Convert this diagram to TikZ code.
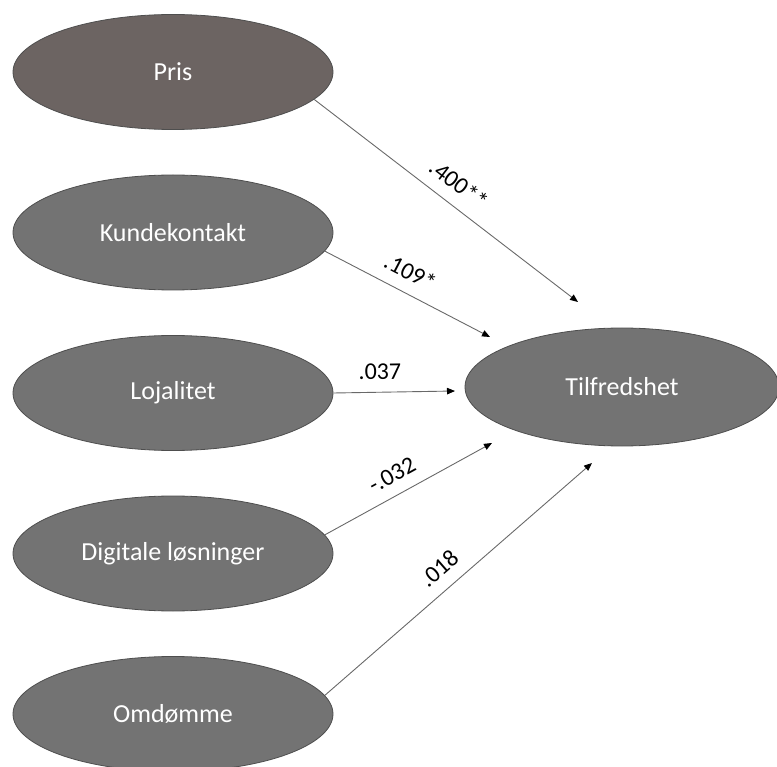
\documentclass[tikz,border=0pt]{standalone}
\usepackage{fontspec}
\setmainfont{Carlito}
\usetikzlibrary{arrows.meta,shapes.geometric}
\definecolor{stone}{RGB}{108,100,98}
\definecolor{slate}{RGB}{115,115,115}
\definecolor{rim}{RGB}{78,78,78}
\definecolor{wire}{RGB}{105,105,105}

\begin{document}
\begin{tikzpicture}[x=1pt,y=-1pt,
    factor/.style={ellipse,draw=rim,line width=0.8pt,fill=slate,text=white,minimum width=320pt,minimum height=115pt,inner sep=0pt,font=\fontsize{26}{30}\selectfont},
    link/.style={draw=wire,line width=0.9pt,-{Triangle[length=8pt,width=6.5pt,color=black]}},
    coef/.style={sloped,above=12pt,inner sep=0pt,text=black,font=\fontsize{24}{28}\selectfont}]
    \useasboundingbox (0,0) rectangle (777,767);
    \foreach \t/\c [count=\i] in {Pris/stone,Kundekontakt/slate,Lojalitet/slate,Digitale løsninger/slate,Omdømme/slate}
    {
      \node[factor,fill=\c] (f\i) at (173,{72+160.5*(\i-1)}) {\t};
    }
    \node[factor,minimum width=314pt,minimum height=118pt] (tilf) at (622,387) {Tilfredshet};
    \coordinate (e1) at (578,302);
    \coordinate (e2) at (490,337);
    \coordinate (e3) at (455,391);
    \coordinate (e4) at (492,443);
    \coordinate (e5) at (592,463);
    \foreach \a/\v/\p [count=\i] in {-11/.400**/0.50,-7/.109*/0.46,0/.037/0.385,7/-.032/0.46,7/.018/0.48}
    {
      \draw[link] (f\i.\a) -- node[coef,pos=\p] {\v} (e\i);
    }
  \end{tikzpicture}
\end{document}
